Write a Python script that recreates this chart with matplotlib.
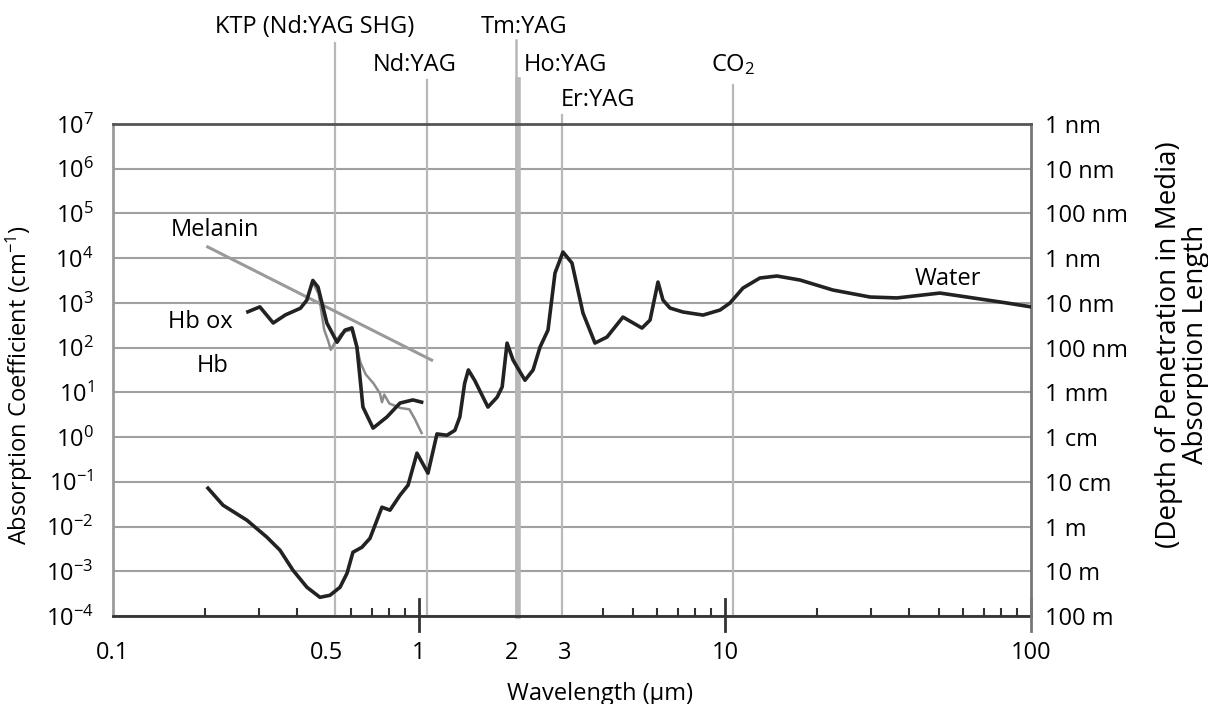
import numpy as np
import matplotlib
matplotlib.use("Agg")
import matplotlib.pyplot as plt

plt.rcParams['font.family'] = ['Open Sans', 'DejaVu Sans']
plt.rcParams['mathtext.fontset'] = 'custom'
plt.rcParams['mathtext.rm'] = 'Open Sans'
plt.rcParams['mathtext.it'] = 'Open Sans:italic'
plt.rcParams['mathtext.bf'] = 'Open Sans:bold'

FS = 17

# water absorption (wavelength um, log10 of coefficient cm^-1)
water_wl = [0.2044, 0.2289, 0.274, 0.3186, 0.3515, 0.3876, 0.4305, 0.4748, 0.5117, 0.552,
            0.582, 0.6084, 0.651, 0.6918, 0.7568, 0.804, 0.867, 0.921, 0.985, 1.07,
            1.145, 1.234, 1.31, 1.36, 1.41, 1.45, 1.52, 1.68, 1.80, 1.87, 1.94, 2.03,
            2.22, 2.36, 2.486, 2.64, 2.783, 2.955, 3.162, 3.435, 3.759, 4.115, 4.64,
            5.355, 5.69, 6.04, 6.27, 6.61, 7.29, 8.48, 9.63, 10.38, 11.45, 13.0, 14.78,
            17.58, 22.5, 29.8, 36.5, 50.4, 64.6, 83.5, 100]
water_log = [-1.143, -1.523, -1.859, -2.239, -2.530, -2.978, -3.358, -3.582, -3.537, -3.358,
             -3.045, -2.575, -2.463, -2.262, -1.568, -1.635, -1.300, -1.076, -0.360, -0.807,
             0.07, 0.04, 0.15, 0.45, 1.2, 1.5, 1.27, 0.67, 0.89, 1.12, 2.1, 1.72,
             1.27, 1.5, 2.011, 2.391, 3.667, 4.136, 3.890, 2.772, 2.101, 2.235, 2.682,
             2.436, 2.615, 3.465, 3.063, 2.884, 2.795, 2.727, 2.839, 2.996, 3.331, 3.555, 3.600,
             3.51, 3.287, 3.130, 3.11, 3.219, 3.11, 2.996, 2.91]

hbox_wl = [0.276, 0.302, 0.334, 0.366, 0.41, 0.43, 0.45, 0.468, 0.5, 0.54, 0.573, 0.604,
           0.627, 0.656, 0.708, 0.786, 0.867, 0.955, 1.02]
hbox_log = [2.8, 2.91, 2.55, 2.73, 2.88, 3.06, 3.5, 3.35, 2.55, 2.12, 2.39, 2.44,
            2.01, 0.67, 0.2, 0.45, 0.76, 0.83, 0.78]

hb_wl = [0.45, 0.47, 0.49, 0.505, 0.515, 0.53, 0.555, 0.573, 0.604, 0.627, 0.645, 0.67,
         0.71, 0.745, 0.757, 0.77, 0.8, 0.87, 0.93, 0.97, 1.02]
hb_log = [3.45, 3.2, 2.4, 2.15, 1.95, 2.1, 2.3, 2.36, 2.4, 2.0, 1.65, 1.4,
          1.2, 0.98, 0.78, 0.95, 0.75, 0.65, 0.62, 0.4, 0.09]

melanin_wl = [0.204, 1.1]
melanin_log = [4.25, 1.72]

lasers = ["KTP (Nd:YAG SHG)", "Nd:YAG", "Tm:YAG", "Ho:YAG", "Er:YAG", "CO$_2$"]
laser_wl = [0.532, 1.064, 2.08, 2.11, 2.94, 10.6]

xtick_vals = [0.1, 0.5, 1, 2, 3, 10, 100]
xtick_labels = ["0.1", "0.5", "1", "2", "3", "10", "100"]
ytick_exp = list(range(-4, 8))
depth_labels = ["100 m", "10 m", "1 m", "10 cm", "1 cm", "1 mm", "100 nm", "10 nm",
                "1 nm", "100 nm", "10 nm", "1 nm"]

fig = plt.figure(figsize=(12.08, 7.04), dpi=100)
ax = fig.add_axes([0.0935, 0.125, 0.76, 0.699])
ax.set_xscale('log')
ax.set_yscale('log')
ax.set_xlim(0.1, 100)
ax.set_ylim(1e-4, 1e7)

# horizontal grid
for e in ytick_exp:
    ax.axhline(10.0 ** e, color='#a0a0a0', lw=1.5, zorder=1)

# laser lines, extend above frame
xt = ax.get_xaxis_transform()
line_top = [1.165, 1.089, 1.171, 1.089, 1.018, 1.079]
line_w = [1.6, 1.6, 1.8, 4.0, 1.6, 1.6]
for wl, top, w in zip(laser_wl, line_top, line_w):
    ax.plot([wl, wl], [0, top], color='#b8b8b8', lw=w, transform=xt, clip_on=False, zorder=2)

lab_x = [0.457, 0.97, 2.2, 3.0, 3.84, 10.6]
lab_y = [1.197, 1.12, 1.197, 1.12, 1.049, 1.12]
for x, y, t in zip(lab_x, lab_y, lasers):
    ax.text(x, y, t, transform=xt, ha='center', va='center', fontsize=FS)

ax.plot(melanin_wl, 10.0 ** np.array(melanin_log), color='#9a9a9a', lw=2.2, zorder=3)
ax.plot(hb_wl, 10.0 ** np.array(hb_log), color='#8c8c8c', lw=1.8, zorder=3)
ax.plot(hbox_wl, 10.0 ** np.array(hbox_log), color='#222222', lw=2.6, zorder=4,
        solid_joinstyle='round')
ax.plot(water_wl, 10.0 ** np.array(water_log), color='#222222', lw=2.6, zorder=4,
        solid_joinstyle='round')

ax.text(0.215, 10 ** 4.63, "Melanin", ha='center', va='center', fontsize=FS)
ax.text(0.193, 10 ** 2.57, "Hb ox", ha='center', va='center', fontsize=FS)
ax.text(0.212, 10 ** 1.59, "Hb", ha='center', va='center', fontsize=FS)
ax.text(53.6, 10 ** 3.53, "Water", ha='center', va='center', fontsize=FS)

# spines
ax.spines['top'].set_color('#555555')
ax.spines['left'].set_color('#9a9a9a')
ax.spines['bottom'].set_color('#333333')
ax.spines['right'].set_color('#777777')
for s in ax.spines.values():
    s.set_linewidth(2)

# x ticks
ax.set_xticks(xtick_vals)
ax.set_xticklabels(xtick_labels, fontsize=FS)
minor = [m * d for d in (0.1, 1, 10) for m in range(2, 10)]
ax.set_xticks(minor, minor=True)
ax.xaxis.set_minor_formatter(plt.NullFormatter())
ax.tick_params(axis='x', which='major', length=0, pad=18)
ax.tick_params(axis='x', which='minor', direction='in', length=6, width=1.5, color='#333333')
for big in (1, 10, 100):
    ax.plot([big, big], [-0.03, 0.035], color='#333333' if big != 100 else '#777777',
            lw=2, transform=xt, clip_on=False, zorder=5)

ax.set_yticks([10.0 ** e for e in ytick_exp])
ax.set_yticklabels(["$10^{%d}$" % e for e in ytick_exp], fontsize=FS)
ax.yaxis.set_minor_locator(plt.NullLocator())
ax.tick_params(axis='y', length=0, pad=14)
ax.set_ylabel("Absorption Coefficient (cm$^{-1}$)", fontsize=FS)
ax.yaxis.set_label_coords(-0.085, 0.47)
ax.set_xlabel("Wavelength (µm)", fontsize=FS)
ax.xaxis.set_label_coords(0.53, -0.134)

ax2 = ax.twinx()
ax2.set_yscale('log')
ax2.set_ylim(1e-4, 1e7)
ax2.set_yticks([10.0 ** e for e in ytick_exp])
ax2.set_yticklabels(depth_labels, fontsize=FS)
ax2.yaxis.set_minor_locator(plt.NullLocator())
ax2.tick_params(axis='y', length=0, pad=10)
for s in ax2.spines.values():
    s.set_visible(False)
ax2.set_ylabel("(Depth of Penetration in Media)\nAbsorption Length", fontsize=20,
               rotation=90, linespacing=0.95)
ax2.yaxis.set_label_coords(1.135, 0.551)

fig.savefig("out.png", dpi=100)
